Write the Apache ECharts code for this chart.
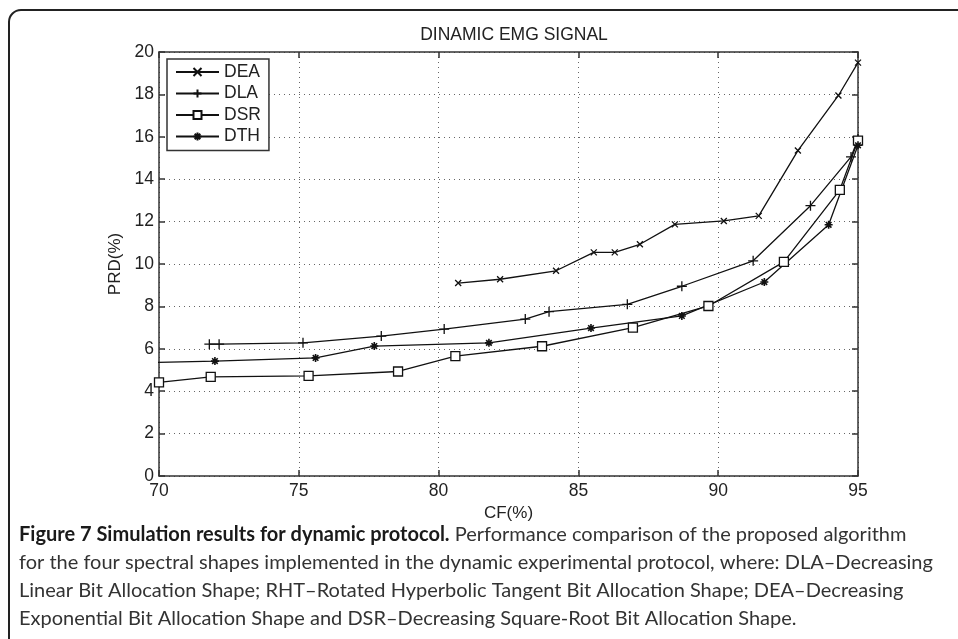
<!DOCTYPE html>
<html>
<head>
<meta charset="utf-8">
<script src="https://cdn.jsdelivr.net/npm/echarts@6/dist/echarts.min.js"></script>
<style>
html,body{margin:0;padding:0;background:#fff;}
#chart{width:958px;height:639px;}
</style>
</head>
<body>
<div id="chart"></div>
<script>
// ---- data ----
var seriesNames = ['DEA', 'DLA', 'DSR', 'DTH'];
var xTickValues = [70, 75, 80, 85, 90, 95];
var yTickValues = [0, 2, 4, 6, 8, 10, 12, 14, 16, 18, 20];

var deaCF  = [80.7, 82.2, 84.2, 85.55, 86.3, 87.2, 88.45, 90.2, 91.45, 92.85, 94.3, 95.0];
var deaPRD = [9.1, 9.28, 9.68, 10.55, 10.55, 10.93, 11.87, 12.03, 12.27, 15.35, 17.95, 19.5];

var dlaCF  = [71.8, 72.15, 75.15, 77.95, 80.2, 83.1, 83.95, 86.75, 88.7, 91.25, 93.3, 94.75, 95.0];
var dlaPRD = [6.22, 6.22, 6.28, 6.6, 6.93, 7.4, 7.75, 8.1, 8.95, 10.15, 12.75, 15.05, 15.9];

var dsrCF  = [70.0, 71.85, 75.35, 78.55, 80.6, 83.7, 86.95, 89.65, 92.35, 94.35, 95.0];
var dsrPRD = [4.42, 4.68, 4.72, 4.93, 5.65, 6.12, 7.0, 8.02, 10.1, 13.5, 15.82];

var dthCF  = [69.0, 72.0, 75.6, 77.7, 81.8, 85.45, 88.7, 91.65, 93.95, 95.0];
var dthPRD = [5.33, 5.42, 5.57, 6.13, 6.28, 6.98, 7.55, 9.15, 11.85, 15.6];

var titleText = 'DINAMIC EMG SIGNAL';
var xName = 'CF(%)';
var yName = 'PRD(%)';
var captionBold = 'Figure 7 Simulation results for dynamic protocol.';
var captionLines = [
  ' Performance comparison of the proposed algorithm',
  'for the four spectral shapes implemented in the dynamic experimental protocol, where: DLA\u2013Decreasing',
  'Linear Bit Allocation Shape; RHT\u2013Rotated Hyperbolic Tangent Bit Allocation Shape; DEA\u2013Decreasing',
  'Exponential Bit Allocation Shape and DSR\u2013Decreasing Square-Root Bit Allocation Shape.'
];

function zip(a, b) { return a.map(function (v, i) { return [v, b[i]]; }); }

var FONT = 'Liberation Sans, Arial, sans-serif';
var CAPFONT = 'Lato, Open Sans, sans-serif';
var CAPSIZE = 20;
var AX = '#333';

var symX    = 'path://M0,0L10,10M0,10L10,0';
var symPlus = 'path://M0,5L10,5M5,0L5,10';
var symStar = 'path://M0,5L10,5M5,0L5,10M1.5,1.5L8.5,8.5M1.5,8.5L8.5,1.5';

function mkSeries(name, xs, ys, symbol, size, fill, bw) {
  return {
    name: name, type: 'line', data: zip(xs, ys),
    xAxisIndex: 0, yAxisIndex: 0,
    symbol: symbol, symbolSize: size, showSymbol: true, showAllSymbol: true,
    lineStyle: { color: '#111', width: 1.3 },
    itemStyle: { color: fill, borderColor: '#111', borderWidth: bw },
    emphasis: { disabled: true },
    clip: true, animation: false, z: 3
  };
}

var chart = echarts.init(document.getElementById('chart'), null, { renderer: 'canvas' });

var gridL = 159, gridT = 52, gridR = 100, gridB = 163;

var axisLineStyle = { color: AX, width: 1.5 };

var option = {
  animation: false,
  backgroundColor: '#fff',
  title: {
    text: titleText, left: 509, top: 21, textAlign: 'center',
    textStyle: { fontFamily: FONT, fontSize: 17.5, fontWeight: 'normal', color: '#222' }
  },
  grid: { left: gridL, top: gridT, right: gridR, bottom: gridB, containLabel: false },
  legend: {
    data: seriesNames, orient: 'vertical', left: 167, top: 59,
    padding: [4, 8, 5, 8], itemGap: 3.5, itemWidth: 43, itemHeight: 10,
    borderColor: '#333', borderWidth: 1.5, backgroundColor: '#fff',
    textStyle: { fontFamily: FONT, fontSize: 17.5, color: '#222', lineHeight: 18 },
    selectedMode: false
  },
  xAxis: [{
    type: 'value', position: 'bottom', min: xTickValues[0], max: xTickValues[xTickValues.length - 1], interval: 5,
    name: xName, nameLocation: 'middle', nameGap: 28,
    nameTextStyle: { fontFamily: FONT, fontSize: 17, color: '#222' },
    axisLine: { show: true, onZero: false, lineStyle: axisLineStyle },
    axisTick: { show: true, inside: true, length: 6, lineStyle: axisLineStyle },
    axisLabel: { show: true, margin: 6, fontFamily: FONT, fontSize: 17.5, color: '#222' },
    splitLine: { show: true, lineStyle: { color: '#666', width: 1, type: [1, 4] } }
  }, {
    type: 'value', position: 'top', min: xTickValues[0], max: xTickValues[xTickValues.length - 1], interval: 5,
    axisLine: { show: true, onZero: false, lineStyle: axisLineStyle },
    axisTick: { show: true, inside: true, length: 6, lineStyle: axisLineStyle },
    axisLabel: { show: false }, splitLine: { show: false }
  }],
  yAxis: [{
    type: 'value', position: 'left', min: yTickValues[0], max: yTickValues[yTickValues.length - 1], interval: 2,
    name: yName, nameLocation: 'middle', nameGap: 33, nameRotate: 90,
    nameTextStyle: { fontFamily: FONT, fontSize: 17, color: '#222' },
    axisLine: { show: true, onZero: false, lineStyle: axisLineStyle },
    axisTick: { show: true, inside: true, length: 6, lineStyle: axisLineStyle },
    axisLabel: { show: true, margin: 5, fontFamily: FONT, fontSize: 17.5, color: '#222' },
    splitLine: { show: true, lineStyle: { color: '#666', width: 1, type: [1, 4] } }
  }, {
    type: 'value', position: 'right', min: yTickValues[0], max: yTickValues[yTickValues.length - 1], interval: 2,
    axisLine: { show: true, onZero: false, lineStyle: axisLineStyle },
    axisTick: { show: true, inside: true, length: 6, lineStyle: axisLineStyle },
    axisLabel: { show: false }, splitLine: { show: false }
  }],
  series: [
    mkSeries('DEA', deaCF, deaPRD, symX, 6, '#111', 1.3),
    mkSeries('DLA', dlaCF, dlaPRD, symPlus, 10, '#111', 1.3),
    mkSeries('DSR', dsrCF, dsrPRD, 'rect', 9, '#fff', 1.3),
    mkSeries('DTH', dthCF, dthPRD, symStar, 8, '#111', 1.6)
  ],
  graphic: [
    {
      type: 'rect', silent: true, z: -1,
      shape: { x: 9, y: 10, width: 1000, height: 700, r: [12, 0, 0, 0] },
      style: { fill: 'none', stroke: '#222', lineWidth: 2 }
    },
    {
      type: 'text', left: 19, top: 525, silent: true,
      style: {
        text: '{b|' + captionBold + '}{n|' + captionLines[0] + '}',
        rich: {
          b: { fontFamily: CAPFONT, fontSize: CAPSIZE, fontWeight: 'bold', fill: '#1a1a1a' },
          n: { fontFamily: CAPFONT, fontSize: CAPSIZE, fill: '#333' }
        }
      }
    },
    { type: 'text', left: 19, top: 553, silent: true,
      style: { text: captionLines[1], fontFamily: CAPFONT, fontSize: CAPSIZE, fill: '#333' } },
    { type: 'text', left: 19, top: 581, silent: true,
      style: { text: captionLines[2], fontFamily: CAPFONT, fontSize: CAPSIZE, fill: '#333' } },
    { type: 'text', left: 19, top: 609, silent: true,
      style: { text: captionLines[3], fontFamily: CAPFONT, fontSize: CAPSIZE, fill: '#333' } }
  ]
};

chart.setOption(option);
</script>
</body>
</html>
